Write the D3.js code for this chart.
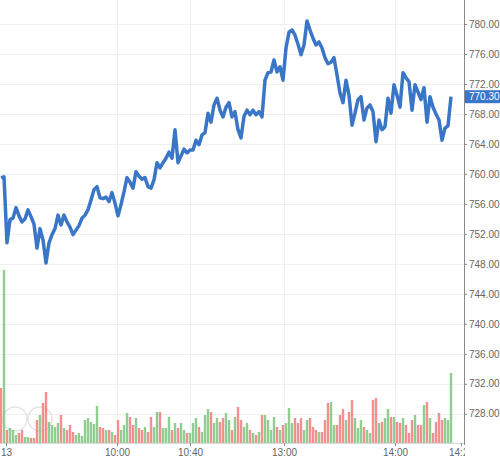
<!DOCTYPE html>
<html>
<head>
<meta charset="utf-8">
<script src="https://cdn.jsdelivr.net/npm/d3@7"></script>
<style>
  body { margin: 0; background: #fff; }
  svg { display: block; font-family: "Liberation Sans", Arial, sans-serif; }
</style>
</head>
<body>
<div id="vis"></div>
<script>
var width = 500
var height = 460

// price axis ticks
var priceTicks = [728, 732, 736, 740, 744, 748, 752, 756, 760, 764, 768, 772, 776, 780]

// time axis labels and the bar index where each one sits
var timeLabels = ["13", "10:00", "10:40", "13:00", "14:00", "14:20"]
var timeIdx = [1.7, 38.7, 63, 94.3, 131.3, 153.4]

var prevClose = 760.0

// last price of each bar
var price = [
  759.5,759.6,750.8,753.9,754.1,755.5,754.4,753.6,754.0,755.2,
  754.3,753.3,750.1,752.7,751.2,748.1,750.8,751.9,752.7,754.5,
  753.2,754.5,753.6,752.9,751.9,752.5,753.1,754.1,754.5,755.2,
  756.5,757.9,758.3,756.8,756.7,756.9,756.3,757.5,756.1,754.4,
  755.9,757.6,759.5,758.9,758.1,760.3,759.7,759.3,759.5,758.3,
  758.1,759.2,761.5,760.8,761.5,762.1,762.9,762.1,765.9,761.5,
  762.4,763.3,762.8,763.2,763.2,764.5,763.9,765.2,765.5,768.1,
  766.9,769.2,770.1,768.5,767.6,768.9,769.5,767.6,768.3,765.9,
  764.8,767.7,768.5,767.9,768.5,767.9,768.3,767.6,772.5,773.5,
  773.6,775.2,773.6,774.3,772.5,776.8,778.9,779.2,778.5,777.3,
  775.9,777.2,780.4,779.2,778.1,777.2,777.6,776.8,775.5,774.7,
  774.9,775.5,773.2,770.8,769.5,772.5,770.5,766.5,768.1,769.9,
  770.3,767.2,768.8,769.2,768.3,764.3,767.2,765.9,766.3,770.1,
  768.1,771.9,770.5,768.9,773.5,772.8,772.3,768.5,771.9,770.9,
  769.9,771.5,766.9,770.3,768.9,768.0,767.2,764.5,766.1,766.4,
  770.3
]

// volume of each bar (thousands)
var volume = [
  55,173,13,15,13,8,10,13,6,6,
  5,5,23,28,40,51,21,18,16,20,
  28,15,13,18,11,8,10,7,23,25,
  21,19,37,16,15,13,13,11,8,23,
  13,18,30,26,18,25,15,13,16,11,
  26,16,31,31,15,15,26,13,20,15,
  20,13,10,10,20,25,16,11,28,34,
  31,20,25,21,25,30,23,13,26,36,
  23,16,20,13,10,8,11,28,28,23,
  13,26,16,13,18,20,35,20,25,20,
  25,13,23,25,16,13,11,11,23,40,
  41,18,18,28,34,23,31,43,25,15,
  23,16,13,10,43,45,20,21,25,34,
  26,26,21,20,25,18,10,23,28,18,
  18,38,41,25,10,21,30,23,25,23,
  70
]

var plotRight = 464
var plotBottom = 443

var svg = d3.select('#vis').append('svg')
  .attr('width', width)
  .attr('height', height)

var defs = svg.append('defs')
defs.append('clipPath').attr('id', 'plot')
  .append('rect').attr('x', 0).attr('y', 0).attr('width', plotRight).attr('height', height)
defs.append('clipPath').attr('id', 'labels')
  .append('rect').attr('x', 0).attr('y', 0).attr('width', plotRight + 1).attr('height', height)

var x = d3.scaleLinear().domain([0, price.length - 1]).range([1, 451])
var y = d3.scaleLinear().domain([724.1, 783.2]).range([plotBottom, 0])
var yVol = d3.scaleLinear().domain([0, 200]).range([plotBottom, plotBottom - 200])

//gridlines
svg.append('g').selectAll('line.h')
  .data(priceTicks).enter().append('line')
  .attr('x1', 0).attr('x2', plotRight)
  .attr('y1', d => Math.round(y(d)) + 0.5).attr('y2', d => Math.round(y(d)) + 0.5)
  .attr('stroke', '#f0f0f0')
svg.append('g').selectAll('line.v')
  .data(timeIdx.slice(1, 5)).enter().append('line')
  .attr('x1', d => Math.round(x(d)) + 0.5).attr('x2', d => Math.round(x(d)) + 0.5)
  .attr('y1', 0).attr('y2', plotBottom)
  .attr('stroke', '#f0f0f0')

// faint logo circles
svg.append('g').selectAll('circle')
  .data([15, 40]).enter().append('circle')
  .attr('cx', d => d).attr('cy', 419).attr('r', 12)
  .attr('fill', 'none').attr('stroke', '#e4e4e4').attr('stroke-width', 1.5)

//volume bars, coloured by change from previous price
var plot = svg.append('g').attr('clip-path', 'url(#plot)')
plot.selectAll('rect')
  .data(volume).enter().append('rect')
  .attr('x', (d, i) => x(i) - 1.2)
  .attr('width', 2.4)
  .attr('y', d => yVol(d))
  .attr('height', d => plotBottom - yVol(d))
  .attr('fill', function(d, i) {
    var before = i == 0 ? prevClose : price[i - 1]
    return price[i] >= before ? '#7cc47c' : '#f07c7c'
  })
  .attr('opacity', 0.85)

//price line
var line = d3.line().x((d, i) => x(i)).y(d => y(d))
plot.append('path')
  .datum(price)
  .attr('d', line)
  .attr('fill', 'none')
  .attr('stroke', '#3a76c8')
  .attr('stroke-width', 3.5)
  .attr('stroke-linejoin', 'round')

//right price axis
var yAxis = d3.axisRight(y).tickValues(priceTicks).tickSize(3).tickPadding(2)
  .tickFormat(d3.format('.2f'))
var ya = svg.append('g').attr('transform', 'translate(' + plotRight + ',0)').call(yAxis)
ya.select('.domain').attr('stroke', '#8a8a8a').attr('d', 'M0.5,0V' + (plotBottom + 2))
ya.selectAll('.tick line').attr('stroke', '#8a8a8a')
ya.selectAll('.tick text').attr('fill', '#666').style('font-size', '10px')
  .style('font-family', '"Liberation Sans", Arial, sans-serif')

//bottom time axis
var xa = svg.append('g').attr('transform', 'translate(0,' + plotBottom + ')')
xa.append('line').attr('x1', 0).attr('x2', plotRight).attr('y1', 0.5).attr('y2', 0.5)
  .attr('stroke', '#d8d8d8')
var xt = xa.append('g').attr('clip-path', 'url(#labels)').selectAll('g')
  .data(timeIdx).enter().append('g')
  .attr('transform', d => 'translate(' + (Math.round(x(d)) + 0.5) + ',0)')
xt.append('line').attr('y1', 0).attr('y2', 3).attr('stroke', '#8a8a8a')
xt.append('text')
  .attr('y', 13)
  .attr('text-anchor', 'middle')
  .attr('fill', '#666')
  .style('font-size', '10px')
  .text((d, i) => timeLabels[i])

//last price tag
var last = price[price.length - 1]
svg.append('rect')
  .attr('x', plotRight + 1).attr('y', y(last) - 6.5)
  .attr('width', width - plotRight - 1).attr('height', 13)
  .attr('fill', '#3a76c8')
svg.append('text')
  .attr('x', plotRight + 5).attr('y', y(last) + 3.5)
  .attr('fill', '#fff')
  .style('font-size', '10px')
  .text(d3.format('.2f')(last))
</script>
</body>
</html>
